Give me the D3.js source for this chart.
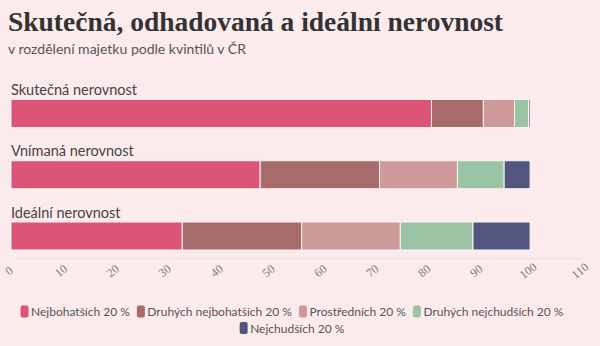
<!DOCTYPE html>
<html>
<head>
<meta charset="utf-8">
<script src="https://cdn.jsdelivr.net/npm/d3@7"></script>
<style>
  html, body { margin: 0; padding: 0; background: #fcebed; }
  svg { display: block; }
</style>
</head>
<body>
<div id="chart"></div>
<script>
// rows (top to bottom) and the five wealth quintiles, shares in %
const categories = ['Skutečná nerovnost', 'Vnímaná nerovnost', 'Ideální nerovnost'];
const quintiles = ['Nejbohatších 20 %', 'Druhých nejbohatších 20 %', 'Prostředních 20 %', 'Druhých nejchudších 20 %', 'Nejchudších 20 %'];
const richest = [81, 48, 33];
const secondRichest = [10, 23, 23];
const middle = [6, 15, 19];
const secondPoorest = [2.7, 9, 14];
const poorest = [0.3, 5, 11];
const xTicks = [0, 10, 20, 30, 40, 50, 60, 70, 80, 90, 100, 110];

const colors = ['#dd5576', '#a76b6b', '#cd9999', '#9bc4a4', '#52567f'];

const W = 600, H = 346;
const svg = d3.select('#chart').append('svg').attr('width', W).attr('height', H);

const sans = 'Lato, sans-serif';

svg.append('text')
  .attr('x', 8).attr('y', 31)
  .attr('textLength', 495).attr('lengthAdjust', 'spacingAndGlyphs')
  .style('font-family', '"Liberation Serif", serif')
  .style('font-weight', 700).style('font-size', '27px')
  .attr('fill', '#333')
  .text('Skutečná, odhadovaná a ideální nerovnost');

svg.append('text')
  .attr('x', 8).attr('y', 54)
  .attr('textLength', 238).attr('lengthAdjust', 'spacingAndGlyphs')
  .style('font-family', sans).style('font-size', '14px')
  .attr('fill', '#555')
  .text('v rozdělení majetku podle kvintilů v ČR');

// stack the quintiles per row
const stackData = categories.map((c, i) => ({
  cat: c,
  [quintiles[0]]: richest[i],
  [quintiles[1]]: secondRichest[i],
  [quintiles[2]]: middle[i],
  [quintiles[3]]: secondPoorest[i],
  [quintiles[4]]: poorest[i]
}));
const series = d3.stack().keys(quintiles)(stackData);

const x = d3.scaleLinear().domain([0, 110]).range([11, 582]);
const y = d3.scaleBand().domain(categories).range([99.5, 250]).paddingInner(0.543).paddingOuter(0);

// row titles above each bar
svg.append('g').selectAll('text').data(categories).join('text')
  .attr('x', 11).attr('y', d => y(d) - 4.5)
  .style('font-family', sans).style('font-size', '14.5px')
  .attr('fill', '#444')
  .text(d => d);

svg.append('g').selectAll('g').data(series).join('g')
  .attr('fill', (d, i) => colors[i])
  .selectAll('rect').data(d => d).join('rect')
  .attr('x', d => x(d[0]))
  .attr('width', d => x(d[1]) - x(d[0]))
  .attr('y', d => y(d.data.cat))
  .attr('height', y.bandwidth())
  .attr('stroke', '#fdf3f4').attr('stroke-width', 1);

// bottom axis with slanted labels
const axis = svg.append('g').attr('transform', 'translate(0,258)')
  .call(d3.axisBottom(x).tickValues(xTicks).tickSize(0).tickPadding(0));
axis.select('.domain').attr('stroke', '#f6dfe2');
axis.selectAll('.tick text')
  .attr('y', 0).attr('dy', 0)
  .attr('transform', 'translate(0,16) rotate(-38)')
  .attr('text-anchor', 'middle')
  .attr('fill', '#7a7a7a')
  .style('font-family', '"Liberation Serif", serif').style('font-size', '12px');

// legend, wrapped into centred lines
const legend = svg.append('g').style('font-family', sans).style('font-size', '12px');
const items = quintiles.map((q, i) => {
  const g = legend.append('g');
  g.append('rect').attr('width', 8).attr('height', 12).attr('rx', 2).attr('y', -10.5).attr('fill', colors[i]);
  const t = g.append('text').attr('x', 10.5).attr('fill', '#555').text(q);
  return { g, w: 10.5 + t.node().getComputedTextLength() };
});
const gap = 7, maxLine = 560;
const lines = [[]];
let lw = 0;
items.forEach(it => {
  const cur = lines[lines.length - 1];
  const add = (cur.length ? gap : 0) + it.w;
  if (lw + add > maxLine && cur.length) { lines.push([it]); lw = it.w; }
  else { cur.push(it); lw += add; }
});
lines.forEach((line, li) => {
  const total = d3.sum(line, d => d.w) + gap * (line.length - 1);
  let cx = (W - total) / 2 - 8;
  line.forEach(it => {
    it.g.attr('transform', `translate(${cx},${316 + li * 16.5})`);
    cx += it.w + gap;
  });
});
</script>
</body>
</html>
